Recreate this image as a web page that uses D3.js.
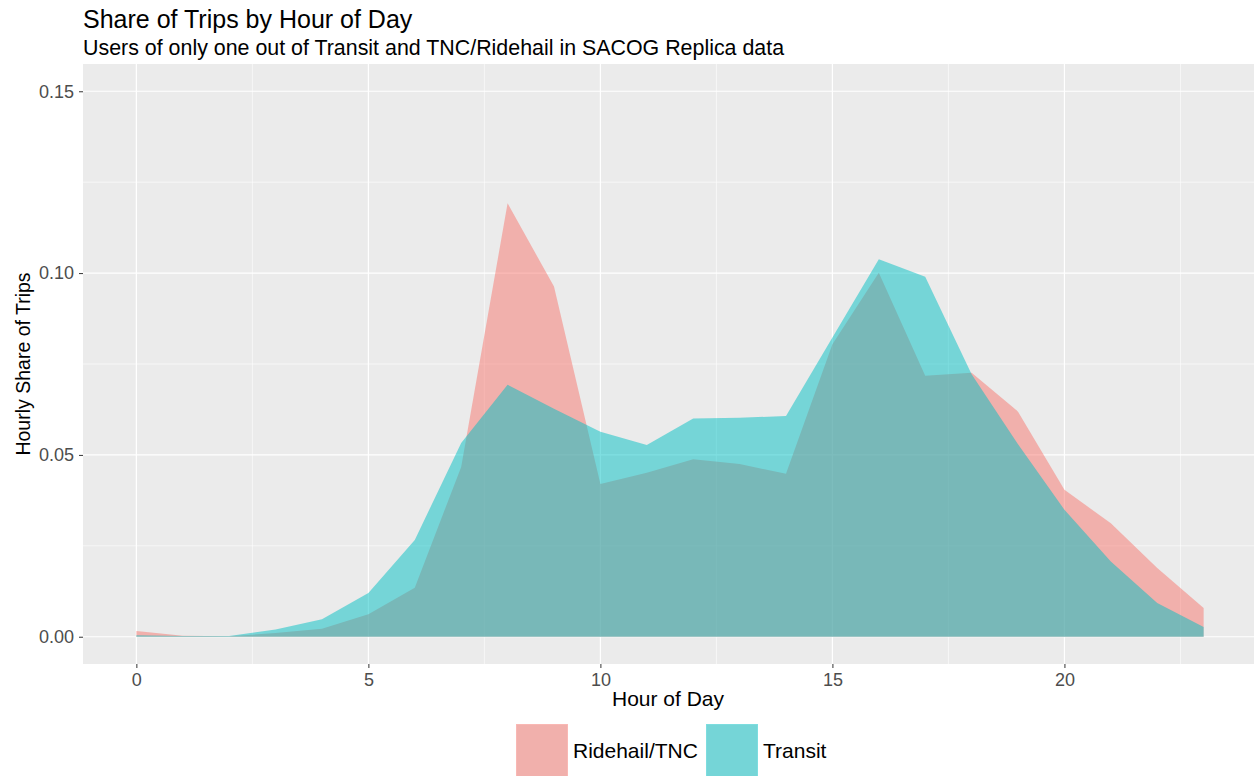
<!DOCTYPE html>
<html>
<head>
<meta charset="utf-8">
<script src="https://cdn.jsdelivr.net/npm/d3@7"></script>
<style>
  body { margin: 0; background: #fff; }
  text { font-family: "Liberation Sans", Arial, sans-serif; }
</style>
</head>
<body>
<figure id="area" style="margin:0"></figure>
<script>
// hours 0..23
const hours = d3.range(0, 24);
const ridehail = [0.0016, 0.0003, 0.0001, 0.0010, 0.0022, 0.0062, 0.0135, 0.0467,
  0.1192, 0.0963, 0.0420, 0.0451, 0.0488, 0.0475, 0.0448, 0.0804,
  0.1001, 0.0718, 0.0726, 0.0619, 0.0404, 0.0312, 0.0189, 0.0079];
const transit = [0.0004, 0.0002, 0.0002, 0.0020, 0.0048, 0.0120, 0.0266, 0.0533,
  0.0693, 0.0627, 0.0564, 0.0527, 0.0600, 0.0602, 0.0607, 0.0823,
  0.1038, 0.0990, 0.0722, 0.0529, 0.0349, 0.0207, 0.0093, 0.0027];
const seriesNames = ["Ridehail/TNC", "Transit"];
const seriesColors = ["#F8766D", "#00BFC4"];
const xTicks = [0, 5, 10, 15, 20];
const yTicks = [0, 0.05, 0.10, 0.15];

const W = 1254, H = 776;
const pLeft = 83, pRight = 1257, pTop = 64, pBottom = 664;

const svg = d3.select("#area").append("svg")
  .attr("width", W).attr("height", H);

const x = d3.scaleLinear().domain([-1.15, 24.15]).range([pLeft, pRight]);
const y = d3.scaleLinear().domain([-0.0075, 0.1575]).range([pBottom, pTop]);

// panel background
svg.append("rect")
  .attr("x", pLeft).attr("y", pTop)
  .attr("width", pRight - pLeft).attr("height", pBottom - pTop)
  .attr("fill", "#EBEBEB");

// minor grid
const xMinor = xTicks.map(d => d + 2.5);
const yMinor = [0.025, 0.075, 0.125];
svg.append("g").selectAll("line").data(xMinor).enter().append("line")
  .attr("x1", d => x(d)).attr("x2", d => x(d))
  .attr("y1", pTop).attr("y2", pBottom)
  .attr("stroke", "#fff").attr("stroke-width", 0.6);
svg.append("g").selectAll("line").data(yMinor).enter().append("line")
  .attr("x1", pLeft).attr("x2", pRight)
  .attr("y1", d => y(d)).attr("y2", d => y(d))
  .attr("stroke", "#fff").attr("stroke-width", 0.6);

// major grid
svg.append("g").selectAll("line").data(xTicks).enter().append("line")
  .attr("x1", d => x(d)).attr("x2", d => x(d))
  .attr("y1", pTop).attr("y2", pBottom)
  .attr("stroke", "#fff").attr("stroke-width", 1.2);
svg.append("g").selectAll("line").data(yTicks).enter().append("line")
  .attr("x1", pLeft).attr("x2", pRight)
  .attr("y1", d => y(d)).attr("y2", d => y(d))
  .attr("stroke", "#fff").attr("stroke-width", 1.2);

// areas
const area = d3.area()
  .x((d, i) => x(hours[i]))
  .y0(y(0))
  .y1(d => y(d));

[ridehail, transit].forEach((vals, k) => {
  svg.append("path")
    .datum(vals)
    .attr("d", area)
    .attr("fill", seriesColors[k])
    .attr("fill-opacity", 0.5);
});

// axes
const xAxis = svg.append("g")
  .attr("transform", "translate(0," + pBottom + ")")
  .call(d3.axisBottom(x).tickValues(xTicks).tickFormat(d3.format("d")).tickSize(4).tickPadding(5));
const yAxis = svg.append("g")
  .attr("transform", "translate(" + pLeft + ",0)")
  .call(d3.axisLeft(y).tickValues(yTicks).tickFormat(d3.format(".2f")).tickSize(4).tickPadding(5));
[xAxis, yAxis].forEach(g => {
  g.select(".domain").remove();
  g.selectAll(".tick line").attr("stroke", "#333").attr("stroke-width", 1);
  g.selectAll(".tick text")
    .attr("fill", "#4D4D4D")
    .style("font-size", "18px")
    .style("font-family", "'Liberation Sans', Arial, sans-serif");
});

// axis titles
svg.append("text")
  .attr("x", 668).attr("y", 706)
  .attr("text-anchor", "middle")
  .style("font-size", "21px")
  .text("Hour of Day");
svg.append("text")
  .attr("transform", "translate(30," + ((pTop + pBottom) / 2) + ")rotate(-90)")
  .attr("text-anchor", "middle")
  .style("font-size", "19.5px")
  .text("Hourly Share of Trips");

// title and subtitle
svg.append("text")
  .attr("x", pLeft).attr("y", 28)
  .style("font-size", "25px")
  .text("Share of Trips by Hour of Day");
svg.append("text")
  .attr("x", pLeft).attr("y", 55)
  .style("font-size", "21.4px")
  .text("Users of only one out of Transit and TNC/Ridehail in SACOG Replica data");

// legend
const legendX = [516, 706];
const lg = svg.append("g");
seriesNames.forEach((name, k) => {
  lg.append("rect")
    .attr("x", legendX[k]).attr("y", 724)
    .attr("width", 52).attr("height", 60)
    .attr("fill", "#EBEBEB").attr("stroke", "#fff").attr("stroke-width", 1.5);
  lg.append("rect")
    .attr("x", legendX[k]).attr("y", 724)
    .attr("width", 52).attr("height", 60)
    .attr("fill", seriesColors[k]).attr("fill-opacity", 0.5);
  lg.append("text")
    .attr("x", legendX[k] + 57).attr("y", 757.5)
    .style("font-size", "21px")
    .text(name);
});
</script>
</body>
</html>
